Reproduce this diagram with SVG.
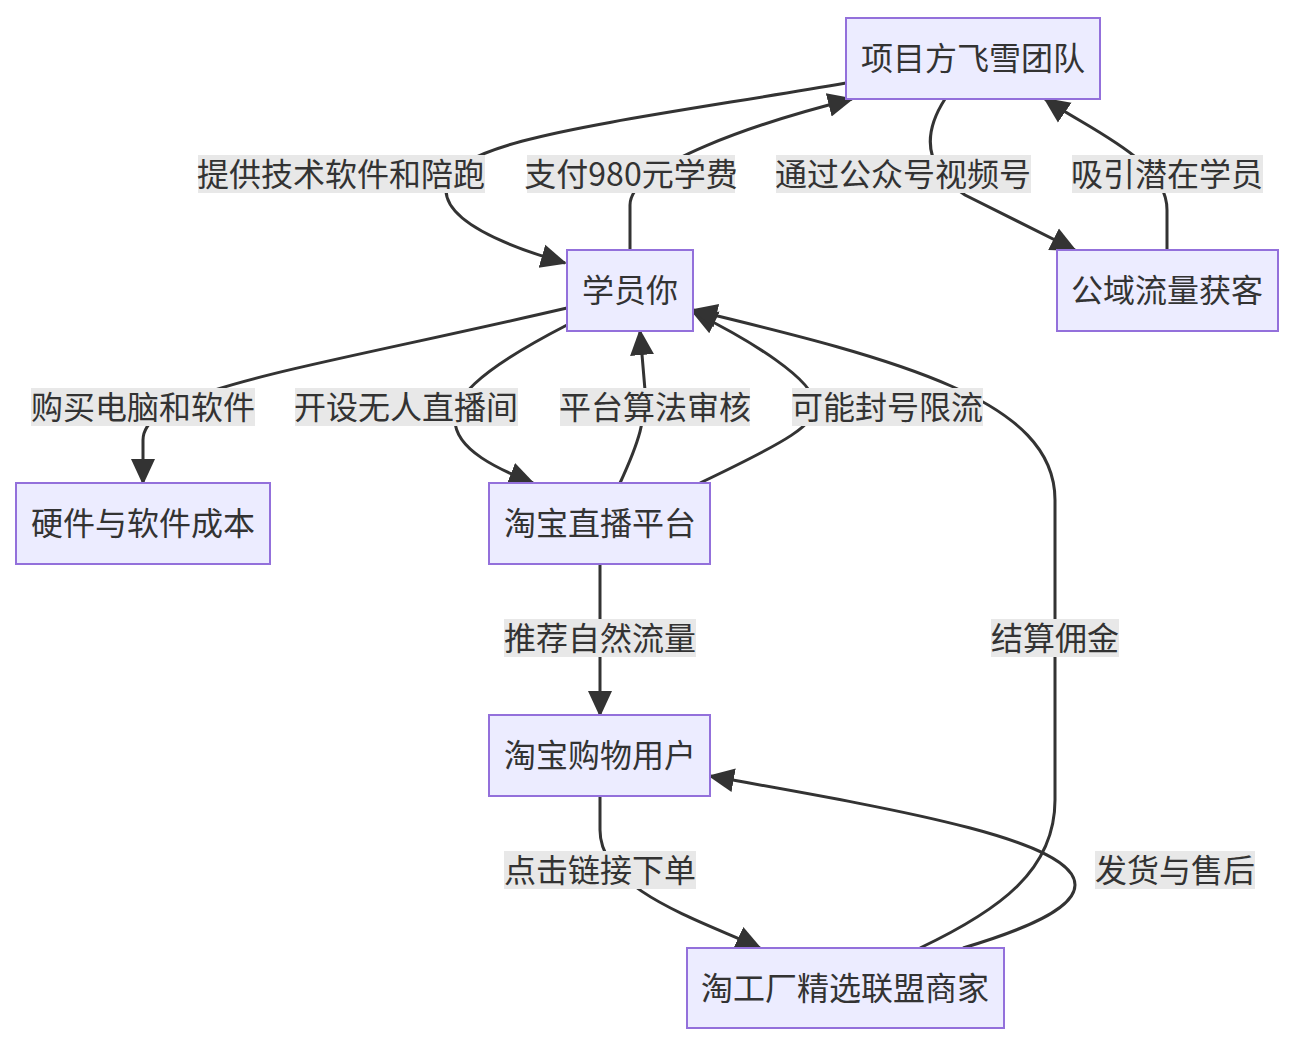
<svg xmlns="http://www.w3.org/2000/svg" width="1296" height="1044" viewBox="0 0 1296 1044">
<style>
.n rect{fill:#ECECFF;stroke:#9370DB;stroke-width:2}
text{font-family:"Noto Sans CJK SC","Liberation Sans",sans-serif;font-size:32px;fill:#333;text-anchor:middle;dominant-baseline:central}
.e path{fill:none;stroke:#333;stroke-width:3}
.l rect{fill:#e8e8e8}
</style>
<defs><marker id="a" markerUnits="userSpaceOnUse" markerWidth="30" markerHeight="30" refX="24" refY="12" orient="auto" viewBox="0 0 30 24"><path d="M0,0 L26,12 L0,24 z" fill="#333"/></marker></defs>
<rect width="1296" height="1044" fill="#fff"/>
<g class="e">
<path marker-end="url(#a)" d="M846,83 C600,125 446,140 446,190 C446,225 520,250 565,263"/>
<path marker-end="url(#a)" d="M630,250 L630,205 C630,165 760,122 852,99"/>
<path marker-end="url(#a)" d="M945,99 C925,130 920,165 965,195 L1075,250"/>
<path marker-end="url(#a)" d="M1167,250 L1167,210 C1167,160 1090,130 1045,99"/>
<path marker-end="url(#a)" d="M567,308 C300,370 143,390 143,440 L143,483"/>
<path marker-end="url(#a)" d="M567,325 C470,375 455,400 455,420 C455,450 500,470 533,483"/>
<path marker-end="url(#a)" d="M620,483 C640,440 645,420 645,390 L640,331"/>
<path marker-end="url(#a)" d="M700,483 C790,440 815,425 815,405 C815,380 750,340 693,312"/>
<path marker-end="url(#a)" d="M600,564 L600,715"/>
<path marker-end="url(#a)" d="M600,796 L600,830 C600,890 700,920 760,948"/>
<path marker-end="url(#a)" d="M920,948 C1000,910 1055,870 1055,800 L1055,500 C1055,400 900,360 693,310"/>
<path marker-end="url(#a)" d="M963,948 C1040,925 1075,905 1075,885 C1075,840 900,810 710,776"/>
</g>
<g class="l">
<rect x="198" y="155" width="287" height="38"/><text x="341" y="172">提供技术软件和陪跑</text>
<rect x="527" y="155" width="208" height="38"/><text x="631" y="172">支付980元学费</text>
<rect x="776" y="155" width="255" height="38"/><text x="903" y="172">通过公众号视频号</text>
<rect x="1072" y="155" width="191" height="38"/><text x="1167" y="172">吸引潜在学员</text>
<rect x="31" y="388" width="224" height="38"/><text x="143" y="405">购买电脑和软件</text>
<rect x="295" y="388" width="223" height="38"/><text x="406" y="405">开设无人直播间</text>
<rect x="560" y="388" width="190" height="38"/><text x="655" y="405">平台算法审核</text>
<rect x="792" y="388" width="191" height="38"/><text x="887" y="405">可能封号限流</text>
<rect x="504" y="619" width="192" height="38"/><text x="600" y="636">推荐自然流量</text>
<rect x="991" y="619" width="128" height="38"/><text x="1055" y="636">结算佣金</text>
<rect x="504" y="851" width="192" height="38"/><text x="600" y="868">点击链接下单</text>
<rect x="1095" y="851" width="160" height="38"/><text x="1175" y="868">发货与售后</text>
</g>
<g id="n1" class="n"><rect x="846" y="18" width="254" height="81"/><text x="973" y="56">项目方飞雪团队</text></g>
<g id="n2" class="n"><rect x="567" y="250" width="126" height="81"/><text x="630" y="288">学员你</text></g>
<g id="n3" class="n"><rect x="1057" y="250" width="221" height="81"/><text x="1167" y="288">公域流量获客</text></g>
<g id="n4" class="n"><rect x="16" y="483" width="254" height="81"/><text x="143" y="521">硬件与软件成本</text></g>
<g id="n5" class="n"><rect x="489" y="483" width="221" height="81"/><text x="600" y="521">淘宝直播平台</text></g>
<g id="n6" class="n"><rect x="489" y="715" width="221" height="81"/><text x="600" y="753">淘宝购物用户</text></g>
<g id="n7" class="n"><rect x="687" y="948" width="317" height="80"/><text x="845" y="986">淘工厂精选联盟商家</text></g>
</svg>
